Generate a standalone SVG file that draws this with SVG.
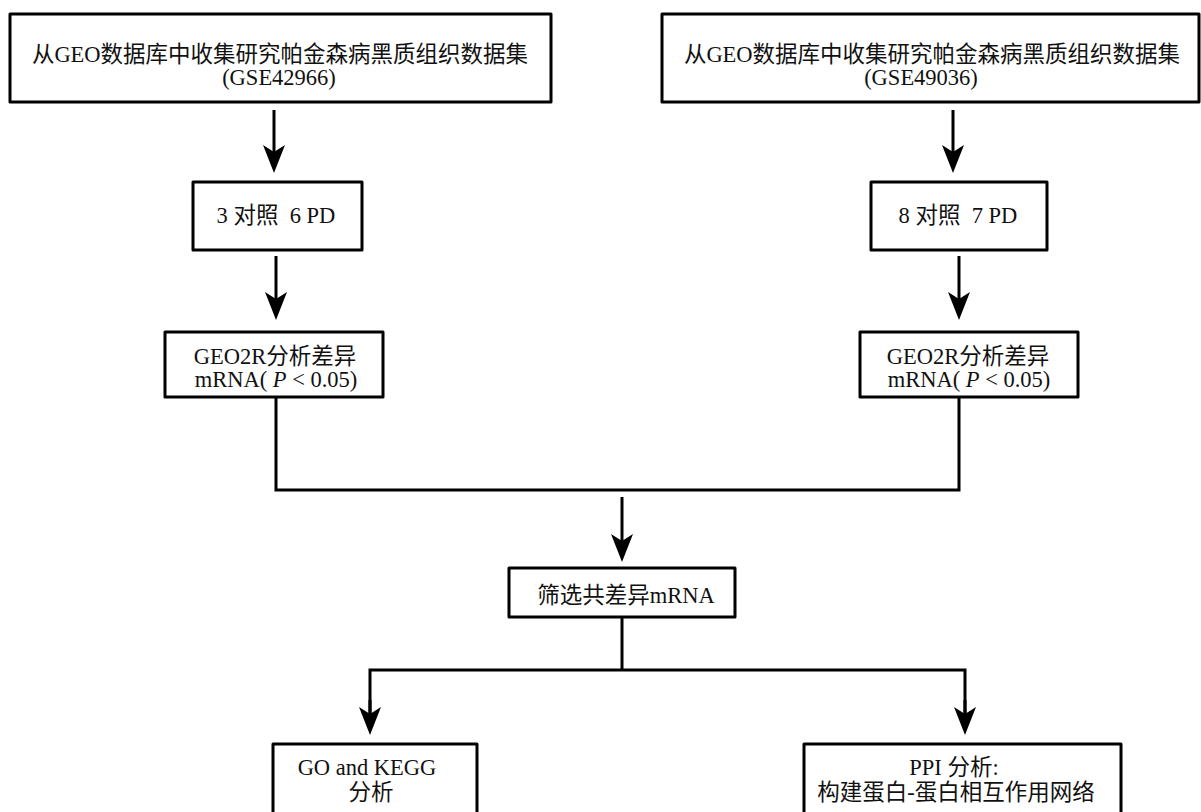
<svg xmlns="http://www.w3.org/2000/svg" width="1201" height="812" viewBox="0 0 1201 812">
<defs>
<style>
.box{fill:#fff;stroke:#000;stroke-width:3;stroke-linejoin:round}
.t{font-family:"Liberation Serif","Noto Sans CJK SC",serif;font-size:22.5px;fill:#111;text-anchor:middle}
.c{fill:none;stroke:#000;stroke-width:3}
</style>
<marker id="ah" viewBox="0 0 28 22" refX="7" refY="11" markerWidth="28" markerHeight="22" markerUnits="userSpaceOnUse" orient="auto">
<path d="M0,0 L28,11 L0,22 L7,11 Z" fill="#000"/>
</marker>
</defs>
<rect width="1201" height="812" fill="#fff"/>
<g id="connectors">
<path class="c" d="M274,110 V152" marker-end="url(#ah)"/>
<path class="c" d="M953,110 V152" marker-end="url(#ah)"/>
<path class="c" d="M276,256 V299" marker-end="url(#ah)"/>
<path class="c" d="M959,256 V299" marker-end="url(#ah)"/>
<path class="c" d="M276,397 V490 H959 V397"/>
<path class="c" d="M622,497 V541" marker-end="url(#ah)"/>
<path class="c" d="M622,617 V670"/>
<path class="c" d="M370,714 V670 H965 V714"/>
<path class="c" d="M370,700 V714" marker-end="url(#ah)"/>
<path class="c" d="M965,700 V714" marker-end="url(#ah)"/>
</g>
<g id="n1">
<rect class="box" x="10" y="14" width="541" height="88"/>
<text class="t" x="280" y="62">从GEO数据库中收集研究帕金森病黑质组织数据集</text>
<text class="t" x="279" y="85">(GSE42966)</text>
</g>
<g id="n2">
<rect class="box" x="662" y="14" width="537" height="88"/>
<text class="t" x="932" y="62">从GEO数据库中收集研究帕金森病黑质组织数据集</text>
<text class="t" x="921" y="85">(GSE49036)</text>
</g>
<g id="n3">
<rect class="box" x="193" y="182" width="169" height="68"/>
<text class="t" x="276" y="223" xml:space="preserve">3 对照  6 PD</text>
</g>
<g id="n4">
<rect class="box" x="871" y="182" width="176" height="68"/>
<text class="t" x="958" y="223" xml:space="preserve">8 对照  7 PD</text>
</g>
<g id="n5">
<rect class="box" x="165" y="332" width="218" height="65"/>
<text class="t" x="275" y="364">GEO2R分析差异</text>
<text class="t" x="276" y="387">mRNA( <tspan font-style="italic">P</tspan> &lt; 0.05)</text>
</g>
<g id="n6">
<rect class="box" x="860" y="332" width="218" height="65"/>
<text class="t" x="968" y="364">GEO2R分析差异</text>
<text class="t" x="969" y="387">mRNA( <tspan font-style="italic">P</tspan> &lt; 0.05)</text>
</g>
<g id="n7">
<rect class="box" x="509" y="568" width="226" height="49"/>
<text class="t" x="626" y="603">筛选共差异mRNA</text>
</g>
<g id="n8">
<rect class="box" x="273" y="744" width="204" height="90"/>
<text class="t" x="367" y="775">GO and KEGG</text>
<text class="t" x="371" y="800">分析</text>
</g>
<g id="n9">
<rect class="box" x="804" y="744" width="317" height="90"/>
<text class="t" x="954" y="775">PPI 分析:</text>
<text class="t" x="956" y="800">构建蛋白-蛋白相互作用网络</text>
</g>
</svg>
